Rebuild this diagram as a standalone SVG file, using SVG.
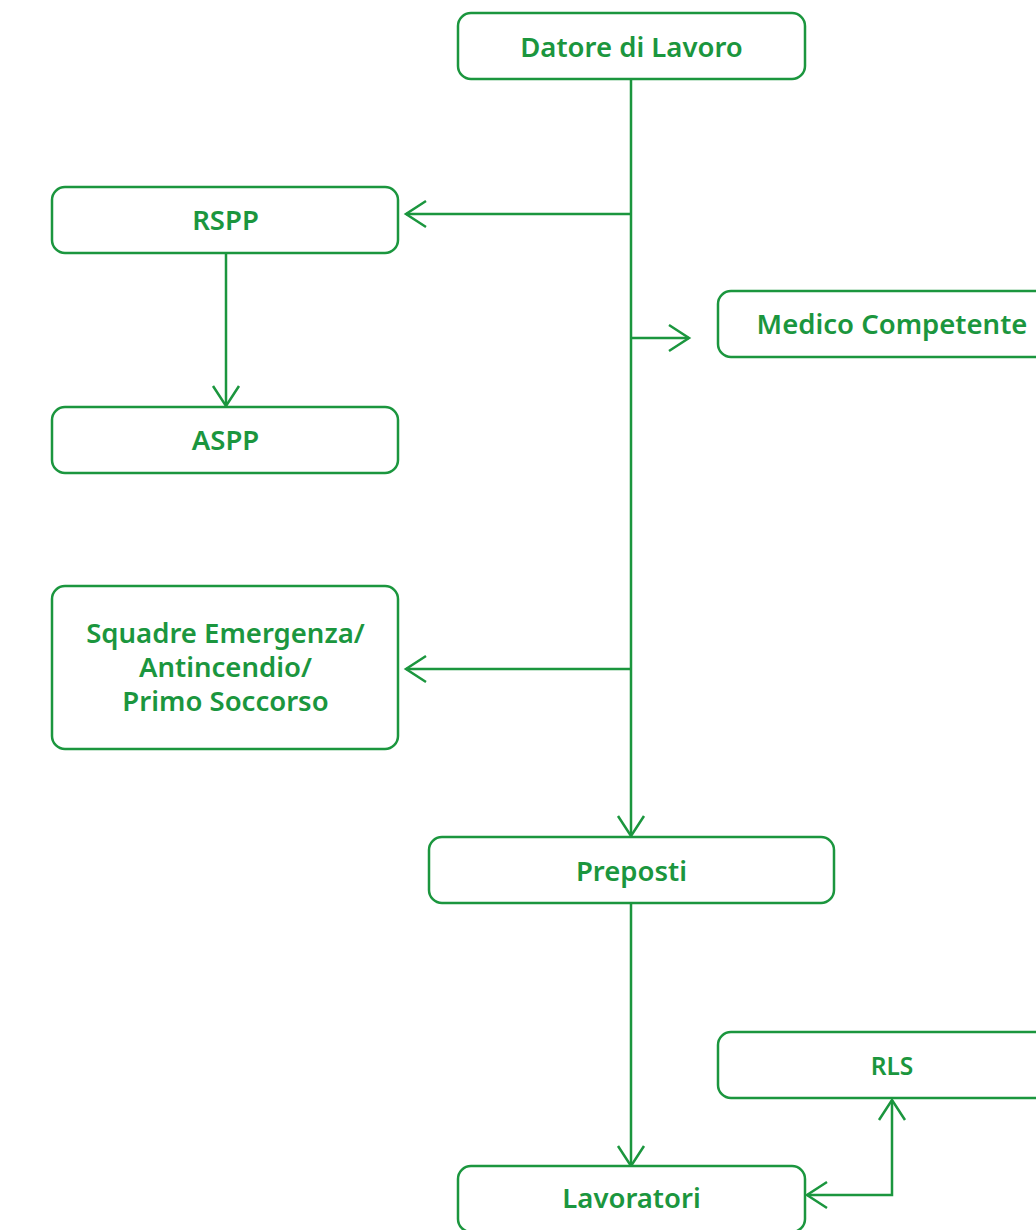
<svg xmlns="http://www.w3.org/2000/svg" width="1036" height="1230" viewBox="0 0 1036 1230">
  <style>
    .box { fill: #ffffff; stroke: #1b963e; stroke-width: 2.5; }
    .lbl { fill: #1b963e; font-family: "Noto Sans", "Open Sans", sans-serif; font-weight: 600; font-size: 27.5px; text-anchor: middle; }
    .small { font-size: 24.5px; }
    .wire { fill: none; stroke: #1b963e; stroke-width: 2.5; }
  </style>
  <defs>
    <marker id="chev" markerUnits="userSpaceOnUse" viewBox="-24 -16 28 32" refX="0" refY="0" markerWidth="28" markerHeight="32" orient="auto-start-reverse" overflow="visible">
      <path d="M -20 -13 L 0 0 L -20 13" fill="none" stroke="#1b963e" stroke-width="2.5"/>
    </marker>
  </defs>
  <rect width="1036" height="1230" fill="#ffffff"/>

  <g id="connectors">
    <!-- main spine: Datore di Lavoro to Preposti -->
    <path class="wire" d="M 631 79 L 631 836" marker-end="url(#chev)"/>
    <path class="wire" d="M 631 214 L 406 214" marker-end="url(#chev)"/>
    <path class="wire" d="M 631 338 L 689 338" marker-end="url(#chev)"/>
    <path class="wire" d="M 631 669 L 406 669" marker-end="url(#chev)"/>
    <!-- RSPP to ASPP -->
    <path class="wire" d="M 226 253 L 226 406" marker-end="url(#chev)"/>
    <!-- Preposti to Lavoratori -->
    <path class="wire" d="M 631 903 L 631 1166" marker-end="url(#chev)"/>
    <!-- Lavoratori <-> RLS -->
    <path class="wire" d="M 807 1195 L 892 1195 L 892 1100" marker-start="url(#chev)" marker-end="url(#chev)"/>
  </g>

  <g id="datore">
    <rect class="box" x="458" y="13" width="347" height="66" rx="13"/>
    <text class="lbl" x="631.5" y="57">Datore di Lavoro</text>
  </g>
  <g id="rspp">
    <rect class="box" x="52" y="187" width="346" height="66" rx="13"/>
    <text class="lbl" x="225.5" y="230">RSPP</text>
  </g>
  <g id="medico">
    <rect class="box" x="718" y="291" width="348" height="66" rx="13"/>
    <text class="lbl" x="892" y="334">Medico Competente</text>
  </g>
  <g id="aspp">
    <rect class="box" x="52" y="407" width="346" height="66" rx="13"/>
    <text class="lbl" x="225.5" y="450">ASPP</text>
  </g>
  <g id="squadre">
    <rect class="box" x="52" y="586" width="346" height="163" rx="13"/>
    <text class="lbl" x="225.5" y="643">Squadre Emergenza/</text>
    <text class="lbl" x="225.5" y="677">Antincendio/</text>
    <text class="lbl" x="225.5" y="711">Primo Soccorso</text>
  </g>
  <g id="preposti">
    <rect class="box" x="429" y="837" width="405" height="66" rx="13"/>
    <text class="lbl" x="631.5" y="881">Preposti</text>
  </g>
  <g id="rls">
    <rect class="box" x="718" y="1032" width="348" height="66" rx="13"/>
    <text class="lbl small" x="892" y="1075">RLS</text>
  </g>
  <g id="lavoratori">
    <rect class="box" x="458" y="1166" width="347" height="66" rx="13"/>
    <text class="lbl" x="631.5" y="1208">Lavoratori</text>
  </g>
</svg>
